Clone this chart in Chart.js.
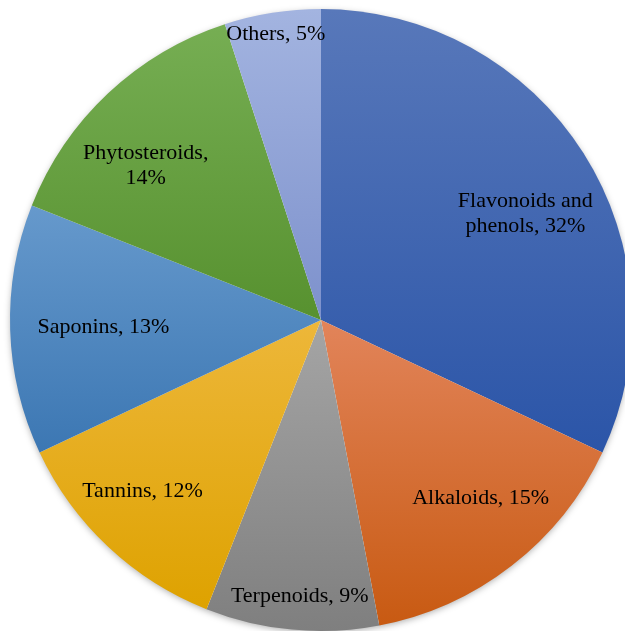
<!DOCTYPE html>
<html>
<head>
<meta charset="utf-8">
<script src="https://cdn.jsdelivr.net/npm/chart.js@4/dist/chart.umd.min.js"></script>
<style>
  html, body { margin: 0; padding: 0; background: #fff; overflow: hidden; }
  #wrap { width: 625px; height: 631px; overflow: hidden; }
</style>
</head>
<body>
<div id="wrap"><canvas id="chartPie" width="642" height="640"></canvas></div>
<script>
const categorias = [
  "Flavonoids and phenols",
  "Alkaloids",
  "Terpenoids",
  "Tannins",
  "Saponins",
  "Phytosteroids",
  "Others",
];

const percentuais = [32, 15, 9, 12, 13, 14, 5];

const rotulos = [
  ["Flavonoids and", "phenols, 32%"],
  ["Alkaloids, 15%"],
  ["Terpenoids, 9%"],
  ["Tannins, 12%"],
  ["Saponins, 13%"],
  ["Phytosteroids,", "14%"],
  ["Others, 5%"],
];

// cor clara (topo) e escura (base) de cada fatia
const coresTopo = ["#5878ba", "#e2845a", "#a5a5a5", "#edb73a", "#6699cc", "#76ae53", "#a3b4e0"];
const coresBase = ["#2b55a8", "#c85a12", "#7f7f7f", "#dea200", "#3c77b3", "#57912f", "#7d91cc"];

// posição dos rótulos: fração do raio e ajuste de ângulo (graus)
const posRotulos = [
  [0.74, 5],
  [0.77, -4],
  [0.89, -1],
  [0.795, 3],
  [0.70, 0],
  [0.75, -5.5],
  [0.93, 0],
];

// gradiente vertical limitado à altura de cada fatia (como no Excel)
function gradiente(context) {
  const chart = context.chart;
  const area = chart.chartArea;
  const i = context.dataIndex;
  if (!area) return coresBase[i];
  const cx = (area.left + area.right) / 2;
  const cy = (area.top + area.bottom) / 2;
  const r = Math.min(area.right - area.left, area.bottom - area.top) / 2;
  const soma = percentuais.reduce((a, b) => a + b, 0);
  const antes = percentuais.slice(0, i).reduce((a, b) => a + b, 0);
  const a0 = -Math.PI / 2 + (2 * Math.PI * antes) / soma;
  const a1 = a0 + (2 * Math.PI * percentuais[i]) / soma;
  const ys = [cy, cy + r * Math.sin(a0), cy + r * Math.sin(a1)];
  [Math.PI / 2, (3 * Math.PI) / 2, -Math.PI / 2].forEach((a) => {
    if (a > a0 && a < a1) ys.push(cy + r * Math.sin(a));
  });
  const g = chart.ctx.createLinearGradient(0, Math.min(...ys), 0, Math.max(...ys));
  g.addColorStop(0, coresTopo[i]);
  g.addColorStop(1, coresBase[i]);
  return g;
}

const sombra = {
  id: "sombra",
  beforeDatasetsDraw(chart) {
    const arc = chart.getDatasetMeta(0).data[0];
    if (!arc) return;
    const ctx = chart.ctx;
    ctx.save();
    ctx.shadowColor = "rgba(0,0,0,0.35)";
    ctx.shadowBlur = 7;
    ctx.shadowOffsetY = 2;
    ctx.fillStyle = "#ffffff";
    ctx.beginPath();
    ctx.arc(arc.x, arc.y, arc.outerRadius - 1, 0, Math.PI * 2);
    ctx.fill();
    ctx.restore();
  },
};

const textos = {
  id: "textos",
  afterDatasetsDraw(chart) {
    const ctx = chart.ctx;
    ctx.save();
    ctx.font = "22px 'Liberation Serif', 'Times New Roman', serif";
    ctx.fillStyle = "#000";
    ctx.textAlign = "center";
    ctx.textBaseline = "middle";
    chart.getDatasetMeta(0).data.forEach((arc, i) => {
      const meio = (arc.startAngle + arc.endAngle) / 2 + (posRotulos[i][1] * Math.PI) / 180;
      const r = arc.outerRadius * posRotulos[i][0];
      const x = arc.x + Math.cos(meio) * r;
      const y = arc.y + Math.sin(meio) * r;
      const linhas = rotulos[i];
      linhas.forEach((t, k) => {
        ctx.fillText(t, x, y + (k - (linhas.length - 1) / 2) * 25);
      });
    });
    ctx.restore();
  },
};

function desenhar() {
  const ctxPie = document.getElementById("chartPie").getContext("2d");
  new Chart(ctxPie, {
    type: "pie",
    data: {
      labels: categorias,
      datasets: [
        {
          data: percentuais,
          backgroundColor: gradiente,
          borderWidth: 0,
        },
      ],
    },
    options: {
      responsive: false,
      animation: false,
      layout: { padding: { left: 10, right: 10, top: 9, bottom: 9 } },
      plugins: {
        legend: { display: false },
        tooltip: { enabled: false },
      },
    },
    plugins: [sombra, textos],
  });
}

document.fonts.load("22px 'Liberation Serif'").then(desenhar, desenhar);
</script>
</body>
</html>
